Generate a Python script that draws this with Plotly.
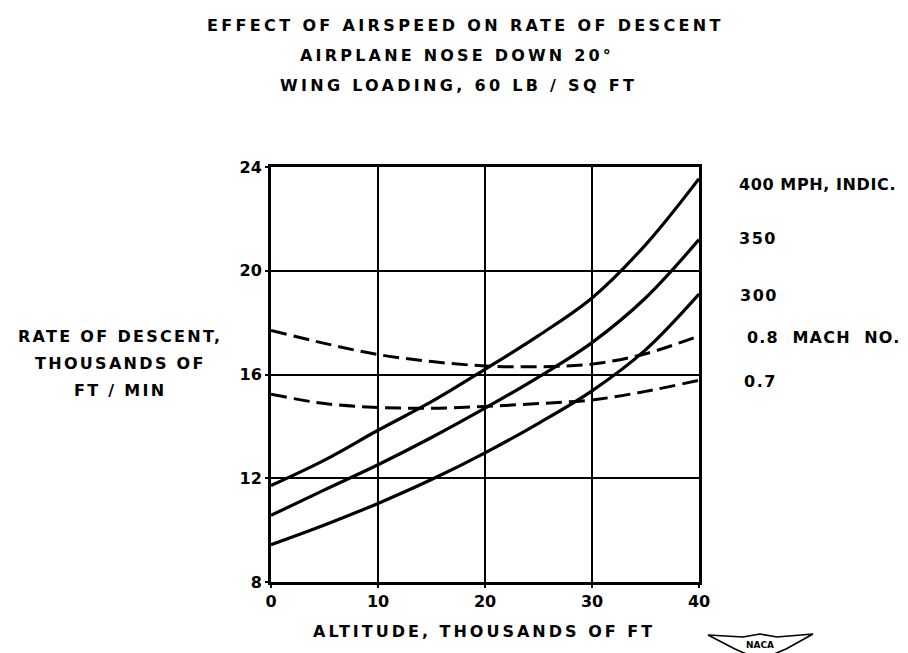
import plotly.graph_objects as go

# ---------------- data ----------------
altitude = [0, 5, 10, 15, 20, 25, 30, 35, 40]          # thousands of ft
mph_400 = [11.72, 12.7, 13.85, 14.95, 16.2, 17.5, 18.95, 21.0, 23.55]
mph_350 = [10.57, 11.55, 12.52, 13.57, 14.7, 15.9, 17.23, 18.95, 21.2]
mph_300 = [9.44, 10.2, 11.03, 11.95, 12.98, 14.12, 15.37, 16.95, 19.1]
mach_08 = [17.7, 17.2, 16.77, 16.5, 16.33, 16.3, 16.4, 16.8, 17.49]
mach_07 = [15.24, 14.88, 14.73, 14.7, 14.77, 14.88, 15.02, 15.35, 15.78]

x_ticks = [0, 10, 20, 30, 40]
y_ticks = [8, 12, 16, 20, 24]

title_lines = ["EFFECT OF AIRSPEED ON RATE OF DESCENT",
               "AIRPLANE NOSE DOWN 20°",
               "WING LOADING, 60 LB / SQ FT"]
y_title_lines = ["RATE OF DESCENT,", "THOUSANDS OF", "FT / MIN"]
x_title = "ALTITUDE, THOUSANDS OF FT"
curve_labels = ["400 MPH, INDIC.", "350", "300", "0.8  MACH  NO.", "0.7"]

# ---------------- layout geometry (pixels) ----------------
W, H = 908, 653
L, R, T, B = 263, 691, 159, 574   # plot area edges


def px(xp):
    return (xp - L) / (R - L)


def py(yp):
    return (B - yp) / (B - T)


FONT = "DejaVu Sans"


def spaced(s, ls):
    return f'<b><span style="letter-spacing:{ls}px">{s}</span></b>'


fig = go.Figure()
solid = dict(color="black", width=3.2, shape="spline")
dashed = dict(color="black", width=3.0, shape="spline", dash="16px,7px")
for ys in (mph_400, mph_350, mph_300):
    fig.add_trace(go.Scatter(x=altitude, y=ys, mode="lines", line=solid,
                             showlegend=False, hoverinfo="skip"))
for ys in (mach_08, mach_07):
    fig.add_trace(go.Scatter(x=altitude, y=ys, mode="lines", line=dashed,
                             showlegend=False, hoverinfo="skip"))

annotations = []


def ann(text, xp, yp, anchor="center", size=16):
    annotations.append(dict(text=text, x=px(xp), y=py(yp), xref="paper", yref="paper",
                            xanchor=anchor, yanchor="middle", showarrow=False,
                            font=dict(family=FONT, size=size, color="black")))


# title
for text, yp, xl, ls in zip(title_lines, [18, 48, 78], [197, 290, 270], [3.35, 3.2, 3.3]):
    ann(spaced(text, ls), xl, yp, anchor="left")
# y title
for text, yp in zip(y_title_lines, [328, 355, 382]):
    ann(spaced(text, 2.3), 112, yp)
# x title
ann(spaced(x_title, 3.0), 303, 623, anchor="left")
# curve labels
for text, xp, yp, ls in zip(curve_labels, [729, 729, 730, 737, 734],
                            [176, 230, 287, 329, 373], [0.6, 1.5, 1.5, 1.2, 1.5]):
    ann(spaced(text, ls), xp, yp, anchor="left")
# NACA logo text
ann("<b>NACA</b>", 752, 637, size=9)

# NACA emblem outline
pts = [(700, 627), (735, 629), (752, 626), (769, 629), (805, 626),
       (778, 641), (752, 652), (727, 641)]
path = "M " + " L ".join(f"{px(a):.4f},{py(b):.4f}" for a, b in pts) + " Z"
shapes = [dict(type="path", path=path, xref="paper", yref="paper",
               line=dict(color="black", width=1.6), fillcolor="white", layer="below")]

axis_common = dict(showline=True, linecolor="black", linewidth=3, mirror=True,
                   showgrid=True, gridcolor="black", gridwidth=2, zeroline=False,
                   tickfont=dict(family=FONT, size=16, color="black"),
                   ticks="outside", tickcolor="black", tickwidth=2, ticklen=3)

fig.update_layout(
    width=W, height=H,
    margin=dict(l=L, r=W - R, t=T, b=H - B, pad=0),
    paper_bgcolor="white", plot_bgcolor="white",
    xaxis=dict(range=[0, 40], tickvals=x_ticks,
               ticktext=[f"<b>{v}</b>" for v in x_ticks],
               ticklabelstandoff=0, **axis_common),
    yaxis=dict(range=[8, 24], tickvals=y_ticks,
               ticktext=[f"<b>{v}</b>" for v in y_ticks],
               ticklabelstandoff=0, **axis_common),
    annotations=annotations,
    shapes=shapes,
)

fig.write_html("out.html")
